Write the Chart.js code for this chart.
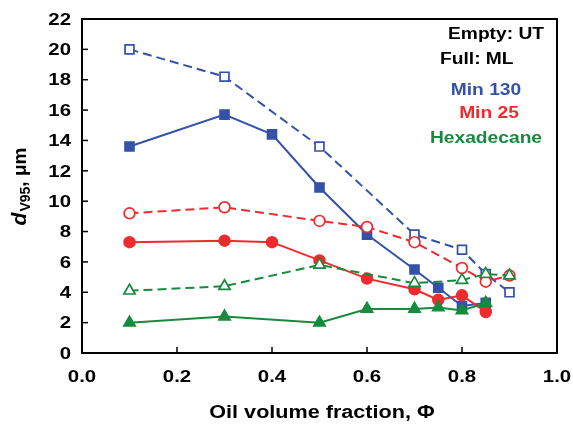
<!DOCTYPE html>
<html>
<head>
<meta charset="utf-8">
<script src="https://cdn.jsdelivr.net/npm/chart.js@4"></script>
<style>
  html, body { margin: 0; padding: 0; background: #fff; }
  #c { display: block; }
</style>
</head>
<body>
<canvas id="c" width="573" height="424"></canvas>
<script>
// x positions (oil volume fraction) per series
const xMin130Full = [0.1, 0.3, 0.4, 0.5, 0.6, 0.7, 0.75, 0.8, 0.85];
const min130Full  = [13.6, 15.7, 14.4, 10.9, 7.8, 5.5, 4.3, 3.1, 3.3];
const xMin130Empty = [0.1, 0.3, 0.5, 0.7, 0.8, 0.85, 0.9];
const min130Empty  = [20.0, 18.2, 13.6, 7.8, 6.8, 5.2, 4.0];

const xMin25Full = [0.1, 0.3, 0.4, 0.5, 0.6, 0.7, 0.75, 0.8, 0.85];
const min25Full  = [7.3, 7.4, 7.3, 6.1, 4.9, 4.2, 3.5, 3.8, 2.7];
const xMin25Empty = [0.1, 0.3, 0.5, 0.6, 0.7, 0.8, 0.85, 0.9];
const min25Empty  = [9.2, 9.6, 8.7, 8.3, 7.3, 5.6, 4.7, 5.1];

const xHexFull = [0.1, 0.3, 0.5, 0.6, 0.7, 0.75, 0.8, 0.85];
const hexFull  = [2.0, 2.4, 2.0, 2.9, 2.9, 3.0, 2.8, 3.3];
const xHexEmpty = [0.1, 0.3, 0.5, 0.7, 0.8, 0.85, 0.9];
const hexEmpty  = [4.1, 4.4, 5.8, 4.6, 4.8, 5.2, 5.1];

const xTicks = [0.0, 0.2, 0.4, 0.6, 0.8, 1.0];
const yTicks = [0, 2, 4, 6, 8, 10, 12, 14, 16, 18, 20, 22];

const BLUE = '#3352a8';
const RED = '#ee2b2f';
const GREEN = '#178a3e';
const FONT = '"Liberation Sans", Arial, sans-serif';
const STRETCH = 1.2; // the original lettering is a bit wide

const pts = (xs, ys) => xs.map((x, i) => ({ x: x, y: ys[i] }));

function series(label, xs, ys, color, style, filled, dashed, order) {
  return {
    label: label,
    data: pts(xs, ys),
    borderColor: color,
    borderWidth: 2,
    borderDash: dashed ? [9, 5] : [],
    pointStyle: style,
    pointRadius: style === 'rect' ? 6.3 : (style === 'triangle' ? 6.5 : 5.4),
    pointBorderWidth: 1.7,
    pointBorderColor: color,
    pointBackgroundColor: filled ? color : '#fff',
    fill: false,
    tension: 0,
    order: order
  };
}

// wide text, like the original
function wideText(ctx, str, x, y, align, font, color) {
  ctx.save();
  ctx.translate(x, y);
  ctx.scale(STRETCH, 1);
  ctx.font = font;
  ctx.fillStyle = color;
  ctx.textAlign = align;
  ctx.textBaseline = 'middle';
  ctx.fillText(str, 0, 0);
  ctx.restore();
}

const frame = {
  id: 'frame',
  afterDraw(chart) {
    const ctx = chart.ctx;
    const a = chart.chartArea;
    const xs = chart.scales.x, ys = chart.scales.y;
    const tickFont = 'bold 17px ' + FONT;
    ctx.save();
    ctx.strokeStyle = '#000';
    ctx.lineWidth = 1.5;
    xTicks.forEach(v => {
      const px = xs.getPixelForValue(v);
      ctx.beginPath(); ctx.moveTo(px, a.bottom); ctx.lineTo(px, a.bottom - 6); ctx.stroke();
      wideText(ctx, v.toFixed(1), px, a.bottom + 24, 'center', tickFont, '#000');
    });
    yTicks.forEach(v => {
      const py = ys.getPixelForValue(v);
      ctx.beginPath(); ctx.moveTo(a.left, py); ctx.lineTo(a.left + 6, py); ctx.stroke();
      wideText(ctx, String(v), a.left - 11, py + 1, 'right', tickFont, '#000');
    });
    ctx.lineWidth = 2;
    ctx.strokeRect(a.left, a.top, a.right - a.left, a.bottom - a.top);

    wideText(ctx, 'Oil volume fraction, \u03A6', 322, 413, 'center', 'bold 18px ' + FONT, '#000');

    // y title: italic d with V95 subscript
    ctx.translate(26, 187);
    ctx.rotate(-Math.PI / 2);
    ctx.fillStyle = '#000';
    const p1 = 'd', p2 = 'V95', p3 = ', \u03BCm';
    const f1 = 'italic bold 21px ' + FONT, f2 = 'bold 14px ' + FONT, f3 = 'bold 19px ' + FONT;
    ctx.font = f1; const w1 = ctx.measureText(p1).width;
    ctx.font = f2; const w2 = ctx.measureText(p2).width;
    ctx.font = f3; const w3 = ctx.measureText(p3).width;
    const x0 = -(w1 + w2 + w3) / 2;
    ctx.textAlign = 'left';
    ctx.textBaseline = 'alphabetic';
    ctx.font = f1; ctx.fillText(p1, x0, 0);
    ctx.font = f2; ctx.fillText(p2, x0 + w1 + 1, 4);
    ctx.font = f3; ctx.fillText(p3, x0 + w1 + w2 + 1, 0);
    ctx.restore();

    // notes in the top right corner
    const nf = 'bold 16px ' + FONT;
    wideText(ctx, 'Empty: UT', 544, 35, 'right', nf, '#000');
    wideText(ctx, 'Full: ML', 440, 60, 'left', nf, '#000');
    wideText(ctx, 'Min 130', 486, 91, 'center', nf, BLUE);
    wideText(ctx, 'Min 25', 489, 114, 'center', nf, RED);
    wideText(ctx, 'Hexadecane', 486, 139, 'center', nf, GREEN);
  }
};

new Chart(document.getElementById('c').getContext('2d'), {
  type: 'line',
  data: {
    datasets: [
      series('Min 130 UT', xMin130Empty, min130Empty, BLUE, 'rect', false, true, 6),
      series('Min 130 ML', xMin130Full, min130Full, BLUE, 'rect', true, false, 5),
      series('Min 25 UT', xMin25Empty, min25Empty, RED, 'circle', false, true, 4),
      series('Min 25 ML', xMin25Full, min25Full, RED, 'circle', true, false, 3),
      series('Hexadecane UT', xHexEmpty, hexEmpty, GREEN, 'triangle', false, true, 2),
      series('Hexadecane ML', xHexFull, hexFull, GREEN, 'triangle', true, false, 1)
    ]
  },
  options: {
    responsive: false,
    animation: false,
    layout: { padding: { left: 0, right: 16, top: 19, bottom: 0 } },
    plugins: { legend: { display: false }, tooltip: { enabled: false } },
    scales: {
      x: {
        type: 'linear',
        min: 0, max: 1,
        afterBuildTicks: s => { s.ticks = xTicks.map(v => ({ value: v })); },
        afterFit: s => { s.height = 71; },
        grid: { display: false, drawTicks: false },
        border: { display: false },
        ticks: { display: false }
      },
      y: {
        type: 'linear',
        min: 0, max: 22,
        afterBuildTicks: s => { s.ticks = yTicks.map(v => ({ value: v })); },
        afterFit: s => { s.width = 82; },
        grid: { display: false, drawTicks: false },
        border: { display: false },
        ticks: { display: false }
      }
    }
  },
  plugins: [frame]
});
</script>
</body>
</html>
